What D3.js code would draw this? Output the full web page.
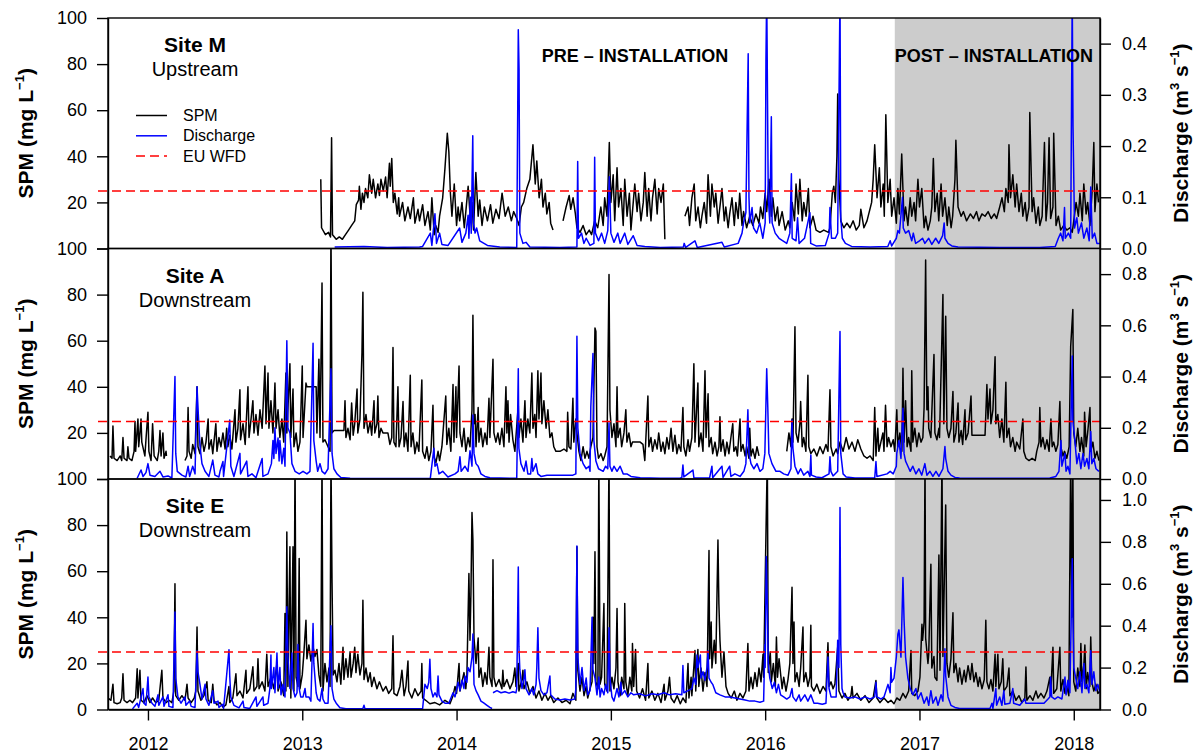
<!DOCTYPE html>
<html>
<head>
<meta charset="utf-8">
<script src="https://cdn.jsdelivr.net/npm/d3@7"></script>
<style>
body { margin: 0; background: #fff; }
text { font-family: "Liberation Sans", Arial, sans-serif; }
</style>
</head>
<body>
<svg></svg>
<script>
const svgWidth = 1198
const svgHeight = 753
const left = 108, right = 1100, top0 = 18
const panelH = 230.5

// labels and ticks
const sites = ["Site M", "Site A", "Site E"]
const siteTypes = ["Upstream", "Downstream", "Downstream"]
const phaseLabels = ["PRE \u2013 INSTALLATION", "POST \u2013 INSTALLATION"]
const legendLabels = ["SPM", "Discharge", "EU WFD"]
const yearTicks = [2012, 2013, 2014, 2015, 2016, 2017, 2018]
const spmTicks = [0, 20, 40, 60, 80, 100]
const qMax = [0.45, 0.9, 1.1]
const qTicks = [[0, 0.1, 0.2, 0.3, 0.4], [0, 0.2, 0.4, 0.6, 0.8], [0, 0.2, 0.4, 0.6, 0.8, 1.0]]
const wfdLimit = 25
const timeStart = 2011.741, timeEnd = 2018.17
const installTime = 2016.84

// series: [decimal year, value]; null = gap in record
const spmM = [[2013.12,30],[2013.125,9],[2013.15,6],[2013.17,7],[2013.183,5],[2013.19,48],[2013.196,6],[2013.22,4],[2013.24,5],[2013.26,4],[2013.28,6],[2013.30,8],[2013.32,10],[2013.34,12],[2013.35,19],[2013.365,21],[2013.37,27],[2013.38,17],[2013.39,24],[2013.40,20],[2013.41,26],[2013.425,22],[2013.435,32],[2013.45,24],[2013.46,30],[2013.475,22],[2013.49,28],[2013.50,23],[2013.51,30],[2013.525,25],[2013.54,31],[2013.55,22],[2013.565,37],[2013.57,27],[2013.58,39],[2013.59,20],[2013.60,24],[2013.615,15],[2013.625,22],
[2013.63,14],[2013.65,20],[2013.665,12],[2013.685,18],[2013.70,13],[2013.72,22],[2013.73,11],[2013.75,17],[2013.76,12],[2013.78,19],[2013.795,10],[2013.815,16],[2013.83,8],[2013.84,22],[2013.855,6],[2013.865,10],[2013.88,7],[2013.89,14],[2013.91,22],[2013.925,35],[2013.94,50],[2013.95,42],[2013.96,24],[2013.97,14],[2013.985,28],[2014.00,10],[2014.01,18],[2014.02,12],[2014.035,20],[2014.05,9],[2014.06,16],[2014.075,27],[2014.09,12],[2014.10,20],[2014.11,8],[2014.125,33],[2014.14,14],[2014.15,21],[2014.165,10],[2014.18,18],[2014.20,12],[2014.22,19],[2014.235,11],[2014.255,17],[2014.275,13],[2014.295,24],[2014.315,14],[2014.335,18],[2014.355,12],[2014.37,16],[2014.39,13],[2014.405,10],[2014.42,18],[2014.435,20],[2014.455,26],[2014.475,30],[2014.495,45],[2014.51,28],[2014.52,38],[2014.535,22],[2014.55,30],[2014.56,18],[2014.575,24],[2014.585,15],[2014.60,20],[2014.61,11],[2014.625,8],[2014.65,null],
[2014.69,12],[2014.71,18],[2014.73,23],[2014.74,17],[2014.755,22],[2014.77,15],[2014.78,9],[2014.80,7],[2014.82,10],[2014.84,6],[2014.86,8],[2014.875,6],[2014.895,12],[2014.915,9],[2014.935,18],[2014.95,10],[2014.96,22],[2014.975,14],[2014.99,46],[2015.00,20],[2015.015,32],[2015.025,12],[2015.04,35],[2015.05,18],[2015.065,26],[2015.08,10],[2015.09,30],[2015.105,14],[2015.12,24],[2015.13,8],[2015.145,20],[2015.155,28],[2015.17,16],[2015.18,24],[2015.195,12],[2015.21,20],[2015.22,33],[2015.235,14],[2015.245,26],[2015.26,12],[2015.27,22],[2015.285,30],[2015.30,15],[2015.31,26],[2015.325,20],[2015.34,28],[2015.35,4],[2015.40,null],
[2015.48,14],[2015.50,18],[2015.51,10],[2015.525,22],[2015.54,28],[2015.55,12],[2015.565,18],[2015.58,9],[2015.59,14],[2015.605,20],[2015.62,11],[2015.63,32],[2015.645,14],[2015.655,28],[2015.67,18],[2015.68,24],[2015.695,11],[2015.71,20],[2015.72,26],[2015.735,12],[2015.745,18],[2015.76,9],[2015.77,15],[2015.785,22],[2015.80,10],[2015.81,20],[2015.825,13],[2015.835,24],[2015.85,10],[2015.86,16],[2015.88,9],[2015.90,14],[2015.92,10],[2015.94,15],[2015.96,11],[2015.97,18],[2015.985,13],[2016.00,24],[2016.01,16],[2016.025,30],[2016.04,14],[2016.05,22],[2016.065,12],[2016.08,18],[2016.09,10],[2016.11,16],[2016.13,8],[2016.15,12],[2016.16,9],[2016.175,20],[2016.19,12],[2016.20,28],[2016.215,15],[2016.225,30],[2016.24,12],[2016.25,20],[2016.265,14],[2016.28,26],[2016.29,9],[2016.31,14],[2016.33,8],[2016.355,7],[2016.38,8],[2016.41,7],[2016.42,9],[2016.435,24],[2016.445,27],[2016.455,20],[2016.465,40],[2016.47,67],[2016.478,30],[2016.49,12],[2016.51,9],[2016.53,11],[2016.55,9],[2016.57,12],[2016.59,8],[2016.61,10],[2016.62,17],[2016.64,9],[2016.66,12],[2016.675,16],[2016.69,20],[2016.70,30],[2016.71,45],[2016.725,22],[2016.74,35],[2016.75,18],[2016.765,28],[2016.772,14],[2016.778,40],[2016.782,58],[2016.795,20],[2016.81,30],[2016.82,14],[2016.835,22],[2016.85,11],[2016.86,26],[2016.87,15],[2016.885,41],[2016.90,12],[2016.91,18],[2016.925,10],[2016.94,22],[2016.95,14],[2016.965,20],[2016.975,12],[2016.99,30],[2017.00,18],[2017.015,26],[2017.03,9],[2017.04,14],[2017.055,8],[2017.07,12],[2017.08,18],[2017.09,39],[2017.10,16],[2017.115,24],[2017.125,12],[2017.14,28],[2017.15,14],[2017.165,22],[2017.18,10],[2017.19,18],[2017.205,9],[2017.215,14],[2017.23,30],[2017.236,47],[2017.25,18],[2017.27,14],[2017.285,16],[2017.305,12],[2017.33,15],[2017.35,13],[2017.37,16],[2017.385,12],[2017.405,15],[2017.425,14],[2017.445,16],[2017.465,13],[2017.485,15],[2017.50,13],[2017.52,18],[2017.535,22],[2017.55,16],[2017.56,26],[2017.575,20],[2017.58,45],[2017.59,22],[2017.605,32],[2017.62,18],[2017.63,28],[2017.645,16],[2017.66,24],[2017.67,14],[2017.685,20],[2017.695,12],[2017.71,18],[2017.715,59],[2017.73,16],[2017.74,22],[2017.755,11],[2017.77,18],[2017.78,10],[2017.795,14],[2017.81,46],[2017.82,12],[2017.83,20],[2017.84,48],[2017.85,13],[2017.865,18],[2017.87,50],[2017.885,10],[2017.90,14],[2017.915,8],[2017.935,10],[2017.955,8],[2017.975,9],[2017.99,7],[2018.00,12],[2018.015,20],[2018.03,14],[2018.04,24],[2018.055,12],[2018.065,28],[2018.08,15],[2018.09,20],[2018.105,10],[2018.12,26],[2018.13,46],[2018.137,16],[2018.15,28],[2018.16,20]]

const qM = [[2013.21,0.003],[2013.40,0.004],[2013.55,0.002],[2013.76,0.003],[2013.78,0.004],[2013.83,0.03],[2013.84,0.006],[2013.86,0.068],[2013.87,0.01],[2013.89,0.03],[2013.905,0.008],[2013.945,0.006],[2014.02,0.04],[2014.035,0.012],[2014.06,0.03],[2014.075,0.065],[2014.08,0.02],[2014.09,0.1],[2014.095,0.03],[2014.105,0.22],[2014.11,0.05],[2014.12,0.03],[2014.13,0.04],[2014.15,0.015],[2014.20,0.006],[2014.28,0.003],[2014.39,0.002],[2014.40,0.427],[2014.405,0.35],[2014.41,0.03],[2014.43,0.01],[2014.45,0.012],[2014.475,0.003],[2014.67,0.002],[2014.78,0.003],[2014.785,0.17],[2014.79,0.02],[2014.81,0.03],[2014.825,0.01],[2014.84,0.02],[2014.865,0.006],[2014.89,0.01],[2014.895,0.178],[2014.90,0.03],[2014.92,0.015],[2014.94,0.03],[2014.96,0.01],[2014.98,0.035],[2014.99,0.14],[2015.00,0.03],[2015.02,0.012],[2015.045,0.03],[2015.06,0.01],[2015.09,0.03],[2015.11,0.008],[2015.145,0.025],[2015.17,0.006],[2015.22,0.004],[2015.32,0.002],[2015.47,0.003],[2015.475,0.01],[2015.485,0.002],[2015.545,0.015],[2015.56,0.002],[2015.72,0.012],[2015.735,0.003],[2015.825,0.01],[2015.85,0.03],[2015.86,0.05],[2015.875,0.07],[2015.89,0.38],[2015.895,0.1],[2015.90,0.05],[2015.915,0.08],[2015.925,0.04],[2015.945,0.03],[2015.965,0.05],[2015.985,0.02],[2016.00,0.05],[2016.005,0.367],[2016.01,0.5],[2016.02,0.1],[2016.03,0.05],[2016.04,0.257],[2016.045,0.05],[2016.065,0.03],[2016.09,0.02],[2016.115,0.015],[2016.14,0.01],[2016.16,0.03],[2016.17,0.146],[2016.175,0.02],[2016.20,0.015],[2016.21,0.06],[2016.22,0.01],[2016.255,0.02],[2016.29,0.07],[2016.295,0.01],[2016.33,0.005],[2016.39,0.006],[2016.415,0.03],[2016.42,0.08],[2016.43,0.02],[2016.455,0.02],[2016.47,0.03],[2016.485,0.5],[2016.49,0.06],[2016.50,0.02],[2016.52,0.01],[2016.56,0.004],[2016.68,0.003],[2016.795,0.004],[2016.81,0.015],[2016.82,0.005],[2016.85,0.02],[2016.86,0.035],[2016.87,0.03],[2016.89,0.1],[2016.895,0.04],[2016.91,0.03],[2016.93,0.035],[2016.95,0.015],[2016.96,0.03],[2016.975,0.01],[2017.00,0.015],[2017.02,0.02],[2017.035,0.01],[2017.06,0.02],[2017.08,0.008],[2017.105,0.02],[2017.125,0.01],[2017.15,0.025],[2017.16,0.05],[2017.165,0.02],[2017.185,0.01],[2017.21,0.005],[2017.25,0.003],[2017.52,0.002],[2017.78,0.002],[2017.88,0.004],[2017.90,0.02],[2017.915,0.03],[2017.93,0.015],[2017.94,0.08],[2017.945,0.02],[2017.965,0.03],[2017.98,0.02],[2017.99,0.5],[2017.995,0.24],[2018.005,0.04],[2018.02,0.06],[2018.03,0.03],[2018.05,0.05],[2018.065,0.02],[2018.085,0.04],[2018.10,0.015],[2018.11,0.12],[2018.12,0.02],[2018.135,0.03],[2018.15,0.01],[2018.17,0.01]]

const spmA = [[2011.754,10],[2011.767,9],[2011.773,23],[2011.78,9],[2011.80,8],[2011.82,10],[2011.83,8],[2011.838,18],[2011.845,9],[2011.864,8],[2011.87,14],[2011.877,9],[2011.896,8],[2011.91,12],[2011.916,25],[2011.92,12],[2011.935,26],[2011.94,14],[2011.955,26],[2011.96,16],[2011.98,10],[2011.987,17],[2012.00,29],[2012.006,12],[2012.02,8],[2012.03,24],[2012.04,10],[2012.06,8],[2012.07,12],[2012.078,21],[2012.085,10],[2012.097,20],[2012.104,9],[2012.117,12],[2012.12,10],[2012.18,null],
[2012.24,8],[2012.253,10],[2012.26,31],[2012.266,12],[2012.28,9],[2012.29,15],[2012.305,11],[2012.318,40],[2012.324,14],[2012.337,11],[2012.35,18],[2012.363,12],[2012.376,16],[2012.39,26],[2012.395,13],[2012.41,17],[2012.42,11],[2012.44,24],[2012.447,12],[2012.46,18],[2012.473,14],[2012.486,20],[2012.50,13],[2012.51,22],[2012.518,14],[2012.53,19],[2012.544,13],[2012.564,30],[2012.57,16],[2012.583,22],[2012.596,38.7],[2012.60,17],[2012.616,24],[2012.63,15],[2012.648,40],[2012.655,18],[2012.668,26],[2012.68,34],[2012.687,20],[2012.70,28],[2012.713,19],[2012.726,30],[2012.74,22],[2012.758,49],[2012.765,24],[2012.778,46],[2012.784,22],[2012.797,34],[2012.81,20],[2012.823,41.6],[2012.83,22],[2012.843,30],[2012.855,18],[2012.868,26],[2012.88,16],[2012.894,46],[2012.90,20],[2012.92,50],[2012.926,18],[2012.94,39],[2012.946,14],[2012.96,20],[2012.972,12],[2012.985,16],[2013.00,49],[2013.005,18],[2013.024,41.6],[2013.03,40],[2013.037,40],[2013.09,40],[2013.095,20],[2013.108,52],[2013.115,18],[2013.128,85],[2013.134,16],[2013.147,17],[2013.167,14],[2013.18,12],[2013.186,110],[2013.193,20],[2013.205,21],[2013.27,21],[2013.277,34],[2013.283,18],[2013.296,22],[2013.31,17],[2013.32,33],[2013.33,19],[2013.34,24],[2013.355,39],[2013.36,20],[2013.374,26],[2013.387,55],[2013.393,81],[2013.40,22],[2013.413,28],[2013.426,20],[2013.44,25],[2013.45,19],[2013.465,34],[2013.47,20],[2013.484,24],[2013.49,36],[2013.497,18],[2013.51,22],[2013.523,20],[2013.555,20],[2013.568,15],[2013.58,18],[2013.588,57],[2013.594,16],[2013.607,14],[2013.62,40],[2013.627,14],[2013.64,18],[2013.653,33.6],[2013.66,14],[2013.672,20],[2013.685,12],[2013.70,45],[2013.705,14],[2013.717,20],[2013.73,11],[2013.743,16],[2013.756,12],[2013.775,43],[2013.78,12],[2013.795,9],[2013.808,14],[2013.82,8],[2013.834,12],[2013.847,32],[2013.853,10],[2013.866,7],[2013.88,12],[2013.89,8],[2013.905,14],[2013.93,36],[2013.937,15],[2013.95,22],[2013.963,12],[2013.977,41],[2013.983,16],[2013.996,40],[2014.00,18],[2014.016,49],[2014.022,20],[2014.035,14],[2014.048,22],[2014.06,12],[2014.074,18],[2014.087,14],[2014.10,30],[2014.106,71],[2014.113,24],[2014.12,28],[2014.126,14],[2014.14,31],[2014.145,16],[2014.158,22],[2014.17,14],[2014.184,20],[2014.197,15],[2014.21,35],[2014.216,18],[2014.236,52],[2014.242,20],[2014.255,16],[2014.268,20],[2014.28,15],[2014.294,22],[2014.307,14],[2014.32,40],[2014.326,20],[2014.333,34],[2014.34,16],[2014.35,28],[2014.365,17],[2014.378,12],[2014.40,32],[2014.404,18],[2014.417,26],[2014.43,16],[2014.443,34],[2014.45,18],[2014.462,26],[2014.475,20],[2014.488,46],[2014.495,22],[2014.507,28],[2014.515,18],[2014.527,47],[2014.534,26],[2014.547,46],[2014.553,24],[2014.566,34],[2014.58,22],[2014.592,30],[2014.605,18],[2014.618,20],[2014.63,14],[2014.644,12],[2014.67,12],[2014.696,13],[2014.715,12],[2014.72,29],[2014.728,14],[2014.741,13],[2014.754,35],[2014.76,16],[2014.773,26],[2014.78,20],[2014.793,12],[2014.806,8],[2014.82,14],[2014.832,9],[2014.845,12],[2014.858,9],[2014.87,14],[2014.884,18],[2014.897,65.5],[2014.903,64],[2014.91,14],[2014.92,9],[2014.936,11],[2014.95,8],[2014.96,10],[2014.975,14],[2014.988,88.7],[2014.994,30],[2015.007,18],[2015.02,24],[2015.033,14],[2015.04,40],[2015.046,18],[2015.06,22],[2015.07,14],[2015.085,20],[2015.097,30],[2015.104,16],[2015.117,20],[2015.13,14],[2015.14,16],[2015.19,16],[2015.208,15],[2015.22,8],[2015.24,36],[2015.246,14],[2015.26,18],[2015.27,12],[2015.285,17],[2015.30,13],[2015.31,20],[2015.325,12],[2015.338,16],[2015.35,11],[2015.363,18],[2015.376,13],[2015.39,22],[2015.402,12],[2015.415,19],[2015.428,11],[2015.44,15],[2015.454,12],[2015.467,31],[2015.473,14],[2015.486,10],[2015.50,17],[2015.51,12],[2015.525,18],[2015.538,50],[2015.545,16],[2015.564,41.6],[2015.57,14],[2015.584,20],[2015.597,12],[2015.61,47],[2015.617,18],[2015.63,37],[2015.636,14],[2015.65,18],[2015.66,11],[2015.675,16],[2015.688,10],[2015.70,14],[2015.707,27],[2015.713,12],[2015.727,17],[2015.74,10],[2015.752,16],[2015.765,11],[2015.778,18],[2015.79,24],[2015.797,12],[2015.81,14],[2015.82,10],[2015.837,26],[2015.843,12],[2015.856,15],[2015.87,10],[2015.88,14],[2015.895,9],[2015.90,22],[2015.908,10],[2015.92,13],[2015.934,9],[2015.947,14],[2015.96,10],[2016.05,null],
[2016.14,12],[2016.154,20],[2016.167,14],[2016.174,26],[2016.18,16],[2016.193,66],[2016.20,20],[2016.213,16],[2016.225,24],[2016.23,33.6],[2016.24,14],[2016.25,18],[2016.264,12],[2016.277,45],[2016.283,14],[2016.296,11],[2016.316,13],[2016.335,10],[2016.355,14],[2016.375,11],[2016.394,15],[2016.407,12],[2016.42,38.7],[2016.426,14],[2016.44,10],[2016.46,13],[2016.47,11],[2016.485,16],[2016.505,12],[2016.525,18],[2016.543,13],[2016.563,16],[2016.582,12],[2016.60,17],[2016.62,13],[2016.64,10],[2016.66,9],[2016.68,10],[2016.70,8],[2016.71,31],[2016.718,10],[2016.73,22],[2016.737,12],[2016.75,16],[2016.763,20],[2016.77,12],[2016.78,32],[2016.79,14],[2016.80,18],[2016.815,14],[2016.83,17],[2016.84,12],[2016.853,30],[2016.86,14],[2016.873,20],[2016.886,12],[2016.893,48],[2016.90,16],[2016.91,34],[2016.92,14],[2016.93,18],[2016.945,12],[2016.95,47],[2016.957,16],[2016.97,22],[2016.983,14],[2016.996,20],[2017.01,16],[2017.022,18],[2017.03,31],[2017.04,95],[2017.048,30],[2017.055,40],[2017.06,22],[2017.074,18],[2017.094,54],[2017.10,20],[2017.113,17],[2017.126,22],[2017.13,18],[2017.152,80],[2017.158,24],[2017.17,70.6],[2017.178,22],[2017.19,18],[2017.204,22],[2017.217,38],[2017.223,16],[2017.236,20],[2017.25,33],[2017.256,16],[2017.27,21],[2017.28,15],[2017.295,30],[2017.30,17],[2017.315,20],[2017.334,36],[2017.34,19],[2017.425,19],[2017.437,41],[2017.444,26],[2017.457,39],[2017.463,24],[2017.476,30],[2017.49,53],[2017.495,24],[2017.508,28],[2017.52,18],[2017.534,26],[2017.547,16],[2017.56,42],[2017.566,18],[2017.58,22],[2017.59,14],[2017.605,18],[2017.62,12],[2017.63,16],[2017.65,13],[2017.67,26],[2017.676,12],[2017.69,9],[2017.71,8],[2017.73,9],[2017.75,8],[2017.76,12],[2017.775,16],[2017.78,31],[2017.787,14],[2017.80,18],[2017.813,13],[2017.826,17],[2017.84,12],[2017.852,26],[2017.86,14],[2017.87,16],[2017.884,12],[2017.897,15],[2017.91,33.6],[2017.916,14],[2017.93,10],[2017.94,12],[2017.955,9],[2017.97,14],[2017.98,57.5],[2017.994,73.5],[2018.00,20],[2018.013,14],[2018.026,22],[2018.04,12],[2018.05,18],[2018.065,10],[2018.07,29],[2018.08,14],[2018.09,20],[2018.105,31],[2018.11,12],[2018.124,16],[2018.137,9],[2018.15,12],[2018.163,8]]

const qA = [[2011.93,0.003],[2011.955,0.035],[2011.968,0.01],[2011.987,0.025],[2012.00,0.06],[2012.013,0.015],[2012.045,0.01],[2012.078,0.03],[2012.097,0.008],[2012.13,0.012],[2012.155,0.004],[2012.175,0.40],[2012.18,0.1],[2012.19,0.03],[2012.22,0.015],[2012.246,0.008],[2012.26,0.05],[2012.27,0.01],[2012.29,0.05],[2012.305,0.02],[2012.318,0.36],[2012.324,0.28],[2012.337,0.13],[2012.35,0.06],[2012.37,0.03],[2012.395,0.01],[2012.42,0.074],[2012.434,0.015],[2012.46,0.008],[2012.467,0.03],[2012.486,0.068],[2012.49,0.01],[2012.53,0.23],[2012.537,0.05],[2012.557,0.01],[2012.596,0.1],[2012.60,0.02],[2012.64,0.07],[2012.648,0.01],[2012.674,0.02],[2012.70,0.005],[2012.74,0.08],[2012.745,0.01],[2012.778,0.02],[2012.80,0.06],[2012.81,0.15],[2012.816,0.08],[2012.823,0.2],[2012.83,0.1],[2012.843,0.16],[2012.85,0.07],[2012.855,0.15],[2012.868,0.06],[2012.88,0.12],[2012.888,0.05],[2012.90,0.54],[2012.907,0.2],[2012.92,0.18],[2012.933,0.06],[2012.953,0.03],[2012.98,0.02],[2013.005,0.03],[2013.03,0.02],[2013.05,0.03],[2013.07,0.53],[2013.075,0.15],[2013.09,0.07],[2013.10,0.03],[2013.115,0.06],[2013.128,0.03],[2013.147,0.02],[2013.167,0.04],[2013.186,0.43],[2013.193,0.1],[2013.205,0.04],[2013.225,0.02],[2013.25,0.006],[2013.31,0.003],[2013.633,0.002],[2013.83,0.003],[2013.853,0.12],[2013.86,0.05],[2013.873,0.06],[2013.886,0.02],[2013.91,0.03],[2013.944,0.008],[2013.99,0.02],[2014.01,0.03],[2014.022,0.087],[2014.03,0.03],[2014.054,0.05],[2014.074,0.03],[2014.087,0.11],[2014.10,0.05],[2014.106,0.25],[2014.113,0.1],[2014.126,0.06],[2014.14,0.05],[2014.158,0.02],[2014.184,0.01],[2014.216,0.005],[2014.346,0.003],[2014.39,0.004],[2014.40,0.43],[2014.404,0.12],[2014.417,0.06],[2014.437,0.03],[2014.45,0.07],[2014.462,0.02],[2014.48,0.02],[2014.488,0.08],[2014.495,0.03],[2014.515,0.06],[2014.527,0.02],[2014.547,0.01],[2014.586,0.015],[2014.625,0.015],[2014.754,0.015],[2014.773,0.02],[2014.78,0.557],[2014.786,0.2],[2014.80,0.1],[2014.82,0.06],[2014.84,0.04],[2014.858,0.05],[2014.865,0.03],[2014.87,0.28],[2014.884,0.49],[2014.89,0.15],[2014.903,0.07],[2014.92,0.04],[2014.95,0.03],[2014.966,0.05],[2014.98,0.04],[2014.988,0.22],[2014.994,0.05],[2015.007,0.03],[2015.02,0.05],[2015.04,0.03],[2015.06,0.05],[2015.08,0.02],[2015.104,0.02],[2015.13,0.01],[2015.19,0.005],[2015.32,0.003],[2015.448,0.003],[2015.46,0.006],[2015.467,0.055],[2015.473,0.008],[2015.532,0.035],[2015.538,0.005],[2015.64,0.004],[2015.655,0.05],[2015.66,0.005],[2015.72,0.05],[2015.727,0.006],[2015.77,0.05],[2015.778,0.01],[2015.804,0.02],[2015.837,0.01],[2015.862,0.03],[2015.875,0.06],[2015.888,0.27],[2015.895,0.1],[2015.908,0.06],[2015.927,0.04],[2015.947,0.06],[2015.966,0.03],[2015.985,0.04],[2015.998,0.1],[2016.01,0.43],[2016.017,0.28],[2016.024,0.1],[2016.044,0.06],[2016.07,0.03],[2016.096,0.03],[2016.12,0.02],[2016.148,0.015],[2016.167,0.04],[2016.174,0.23],[2016.18,0.12],[2016.193,0.05],[2016.213,0.02],[2016.23,0.04],[2016.25,0.015],[2016.277,0.03],[2016.29,0.01],[2016.296,0.094],[2016.30,0.015],[2016.33,0.008],[2016.368,0.005],[2016.414,0.02],[2016.42,0.087],[2016.426,0.03],[2016.44,0.012],[2016.47,0.03],[2016.485,0.576],[2016.49,0.1],[2016.505,0.02],[2016.525,0.008],[2016.582,0.004],[2016.71,0.004],[2016.718,0.068],[2016.724,0.01],[2016.79,0.02],[2016.81,0.03],[2016.83,0.02],[2016.85,0.05],[2016.853,0.1],[2016.867,0.15],[2016.88,0.08],[2016.893,0.276],[2016.90,0.1],[2016.91,0.07],[2016.925,0.05],[2016.94,0.03],[2016.957,0.05],[2016.977,0.02],[2016.996,0.04],[2017.015,0.015],[2017.035,0.06],[2017.048,0.015],[2017.068,0.03],[2017.087,0.01],[2017.107,0.03],[2017.126,0.01],[2017.152,0.04],[2017.165,0.127],[2017.17,0.08],[2017.185,0.03],[2017.204,0.015],[2017.23,0.006],[2017.26,0.004],[2017.457,0.003],[2017.65,0.003],[2017.845,0.004],[2017.884,0.01],[2017.904,0.03],[2017.917,0.15],[2017.923,0.05],[2017.943,0.1],[2017.95,0.03],[2017.962,0.05],[2017.975,0.02],[2017.99,0.48],[2017.994,0.23],[2018.007,0.15],[2018.02,0.06],[2018.033,0.1],[2018.046,0.04],[2018.06,0.1],[2018.07,0.05],[2018.085,0.08],[2018.098,0.04],[2018.11,0.185],[2018.117,0.06],[2018.13,0.08],[2018.144,0.04],[2018.163,0.03]]

const spmE = [[2011.74,5],[2011.76,4],[2011.773,11],[2011.78,3],[2011.80,2.5],[2011.82,3],[2011.83,5],[2011.838,15.5],[2011.845,4],[2011.864,3],[2011.883,4],[2011.90,3],[2011.92,5],[2011.93,17.7],[2011.935,5],[2011.948,17],[2011.955,4],[2011.974,3],[2011.994,6],[2012.013,3],[2012.03,5],[2012.05,3],[2012.07,4],[2012.09,17],[2012.097,5],[2012.117,3],[2012.136,4],[2012.155,3],[2012.168,8],[2012.175,54.6],[2012.18,6],[2012.20,4],[2012.22,6],[2012.24,4],[2012.253,11],[2012.26,5],[2012.28,3],[2012.30,5],[2012.31,8],[2012.318,35.8],[2012.324,8],[2012.343,4],[2012.363,6],[2012.382,12],[2012.39,4],[2012.41,3],[2012.42,11],[2012.428,4],[2012.447,2],[2012.467,3],[2012.486,1],[2012.505,2],[2012.525,10],[2012.53,3],[2012.55,5],[2012.57,15.5],[2012.577,6],[2012.596,8],[2012.616,5],[2012.635,17],[2012.64,7],[2012.66,9],[2012.68,18.5],[2012.687,8],[2012.706,10],[2012.713,22],[2012.72,9],[2012.74,12],[2012.758,8],[2012.77,24],[2012.778,10],[2012.797,14],[2012.816,9],[2012.836,20],[2012.843,8],[2012.862,12],[2012.88,6],[2012.888,41.6],[2012.894,8],[2012.90,77],[2012.907,10],[2012.92,70.6],[2012.926,5],[2012.94,70.6],[2012.946,8],[2012.953,110],[2012.96,14],[2012.972,10],[2012.98,65.5],[2012.985,9],[2013.00,15],[2013.01,24],[2013.024,38.7],[2013.03,22],[2013.043,28],[2013.056,21],[2013.07,27],[2013.082,23],[2013.095,26],[2013.108,15],[2013.12,10],[2013.128,110],[2013.134,8],[2013.147,20],[2013.16,12],[2013.173,18],[2013.18,10],[2013.186,110],[2013.193,55],[2013.20,15],[2013.212,17],[2013.225,12],[2013.238,20],[2013.25,11],[2013.264,27],[2013.27,13],[2013.283,22],[2013.296,14],[2013.31,25],[2013.316,14],[2013.33,20],[2013.34,27],[2013.348,16],[2013.36,24],[2013.374,15],[2013.387,20],[2013.393,47.4],[2013.40,13],[2013.413,18],[2013.426,12],[2013.44,16],[2013.45,10],[2013.465,14],[2013.484,9],[2013.50,12],[2013.523,8],[2013.542,10],[2013.56,7],[2013.58,9],[2013.588,32],[2013.594,7],[2013.614,6],[2013.633,10],[2013.646,17],[2013.66,6],[2013.672,10],[2013.685,21],[2013.69,8],[2013.71,5],[2013.73,9],[2013.75,6],[2013.77,8],[2013.775,20],[2013.78,5],[2013.80,4],[2013.827,2.5],[2013.86,3],[2013.89,2],[2013.925,4],[2013.957,2.5],[2013.977,6],[2013.99,10],[2014.00,7],[2014.016,20],[2014.022,8],[2014.035,12],[2014.048,16],[2014.06,9],[2014.067,15],[2014.08,59],[2014.087,30],[2014.093,50],[2014.10,85.5],[2014.106,73.5],[2014.113,31],[2014.126,20],[2014.14,31],[2014.145,14],[2014.158,18],[2014.17,10],[2014.184,16],[2014.197,11],[2014.21,27],[2014.216,14],[2014.23,10],[2014.236,65],[2014.242,14],[2014.255,10],[2014.275,13],[2014.294,9],[2014.30,17],[2014.307,10],[2014.326,13],[2014.346,9],[2014.365,12],[2014.378,18],[2014.385,10],[2014.40,20],[2014.404,8],[2014.424,13],[2014.43,17],[2014.437,9],[2014.456,12],[2014.475,7],[2014.495,10],[2014.515,5],[2014.534,8],[2014.553,4],[2014.573,7],[2014.592,4],[2014.61,6],[2014.63,3],[2014.657,5],[2014.683,3],[2014.71,4],[2014.735,2.5],[2014.754,7],[2014.773,4],[2014.78,70.6],[2014.786,17],[2014.80,8],[2014.813,14],[2014.826,6],[2014.84,10],[2014.85,5],[2014.865,9],[2014.878,12],[2014.884,40],[2014.89,20],[2014.897,68.4],[2014.903,12],[2014.916,9],[2014.922,110],[2014.93,11],[2014.94,14],[2014.955,46],[2014.96,11],[2014.975,8],[2014.988,110],[2014.994,8],[2015.007,14],[2015.02,9],[2015.033,18],[2015.04,43.8],[2015.046,12],[2015.06,6],[2015.07,14],[2015.085,9],[2015.09,46],[2015.097,12],[2015.11,6],[2015.123,14],[2015.136,8],[2015.14,28.6],[2015.148,10],[2015.16,26],[2015.167,8],[2015.186,5],[2015.205,9],[2015.225,4],[2015.24,20],[2015.246,5],[2015.266,8],[2015.285,4],[2015.305,7],[2015.325,3],[2015.345,11],[2015.35,4],[2015.37,8],[2015.38,14],[2015.39,5],[2015.41,3],[2015.43,6],[2015.45,2.5],[2015.467,5],[2015.486,3],[2015.50,20],[2015.506,5],[2015.52,14],[2015.525,6],[2015.545,25.6],[2015.55,8],[2015.564,26],[2015.57,10],[2015.584,18],[2015.597,8],[2015.61,16],[2015.623,10],[2015.636,69],[2015.64,22],[2015.65,38],[2015.655,18],[2015.67,30],[2015.68,20],[2015.694,73.5],[2015.70,46],[2015.707,30],[2015.72,14],[2015.733,25],[2015.746,10],[2015.76,7],[2015.78,5],[2015.80,8],[2015.817,4],[2015.837,7],[2015.856,5],[2015.875,8],[2015.888,28.6],[2015.895,8],[2015.908,14],[2015.92,9],[2015.934,16],[2015.947,10],[2015.96,18],[2015.973,12],[2015.986,24],[2015.99,14],[2016.00,55],[2016.007,83.6],[2016.014,110],[2016.02,16],[2016.033,25],[2016.04,12],[2016.053,20],[2016.066,10],[2016.073,31.4],[2016.08,14],[2016.09,22],[2016.11,9],[2016.12,14],[2016.135,8],[2016.148,13],[2016.16,20],[2016.174,53],[2016.18,20],[2016.187,38],[2016.193,12],[2016.206,16],[2016.22,10],[2016.23,18],[2016.245,35.8],[2016.25,12],[2016.264,16],[2016.277,10],[2016.29,14],[2016.296,36.5],[2016.30,10],[2016.316,8],[2016.335,11],[2016.355,7],[2016.375,10],[2016.394,8],[2016.407,29],[2016.414,10],[2016.427,12],[2016.44,9],[2016.452,11],[2016.47,27],[2016.478,8],[2016.498,5],[2016.517,7],[2016.536,4],[2016.556,6],[2016.563,10],[2016.57,5],[2016.595,7],[2016.62,4],[2016.647,6],[2016.673,3],[2016.70,5],[2016.718,12.6],[2016.724,5],[2016.744,3],[2016.77,5],[2016.796,3],[2016.815,4],[2016.835,2.5],[2016.853,5],[2016.873,4],[2016.893,7],[2016.91,5],[2016.93,8],[2016.945,25.6],[2016.95,7],[2016.97,6],[2016.99,8],[2017.003,14],[2017.016,37],[2017.02,30],[2017.03,38],[2017.036,110],[2017.04,31],[2017.055,20],[2017.06,24],[2017.074,63],[2017.08,18],[2017.094,23],[2017.10,14],[2017.113,12.6],[2017.126,67],[2017.133,17],[2017.146,110],[2017.152,23],[2017.17,88.7],[2017.178,20],[2017.19,14],[2017.204,22],[2017.217,42],[2017.223,16],[2017.236,20],[2017.25,12],[2017.26,18],[2017.275,11],[2017.29,17],[2017.30,12],[2017.315,19],[2017.33,13],[2017.34,20],[2017.353,12],[2017.366,16],[2017.38,10],[2017.39,14],[2017.405,9],[2017.42,13],[2017.43,38.7],[2017.437,12],[2017.45,9],[2017.463,13],[2017.476,8],[2017.49,24],[2017.495,10],[2017.508,24],[2017.515,9],[2017.53,12],[2017.54,22],[2017.547,8],[2017.567,10],[2017.58,18],[2017.586,6],[2017.605,8],[2017.625,4],[2017.645,6],[2017.664,3],[2017.683,5],[2017.69,18.4],[2017.696,4],[2017.716,6],[2017.735,4],[2017.755,8],[2017.768,5],[2017.787,7],[2017.807,5],[2017.826,8],[2017.845,14],[2017.85,6],[2017.865,27],[2017.87,7],[2017.89,9],[2017.91,27],[2017.916,8],[2017.93,13],[2017.943,7],[2017.955,10],[2017.968,6],[2017.98,110],[2017.987,40],[2017.994,110],[2018.00,12],[2018.013,8],[2018.026,18],[2018.04,10],[2018.046,28.6],[2018.053,12],[2018.066,20],[2018.072,28],[2018.08,9],[2018.09,16],[2018.104,10],[2018.11,31.4],[2018.117,12],[2018.13,8],[2018.143,11],[2018.156,7],[2018.17,8]]

const qE = [[2011.90,0.003],[2011.93,0.03],[2011.94,0.01],[2011.968,0.1],[2011.974,0.03],[2011.987,0.02],[2012.00,0.155],[2012.006,0.06],[2012.026,0.03],[2012.045,0.015],[2012.065,0.07],[2012.07,0.02],[2012.097,0.06],[2012.104,0.015],[2012.13,0.07],[2012.136,0.015],[2012.162,0.01],[2012.175,0.465],[2012.18,0.15],[2012.194,0.06],[2012.214,0.03],[2012.24,0.06],[2012.246,0.02],[2012.27,0.04],[2012.28,0.015],[2012.305,0.01],[2012.318,0.28],[2012.324,0.18],[2012.337,0.12],[2012.35,0.05],[2012.37,0.12],[2012.376,0.05],[2012.395,0.02],[2012.42,0.09],[2012.428,0.03],[2012.454,0.04],[2012.46,0.01],[2012.486,0.025],[2012.49,0.005],[2012.525,0.285],[2012.53,0.16],[2012.537,0.06],[2012.557,0.02],[2012.59,0.008],[2012.616,0.04],[2012.622,0.01],[2012.66,0.005],[2012.70,0.06],[2012.706,0.015],[2012.745,0.06],[2012.75,0.02],[2012.778,0.03],[2012.79,0.1],[2012.797,0.26],[2012.80,0.1],[2012.816,0.2],[2012.823,0.08],[2012.836,0.27],[2012.843,0.1],[2012.855,0.2],[2012.862,0.07],[2012.875,0.12],[2012.888,0.06],[2012.90,0.49],[2012.907,0.25],[2012.92,0.1],[2012.933,0.27],[2012.94,0.1],[2012.953,0.06],[2012.966,0.08],[2012.972,0.31],[2012.98,0.1],[2012.99,0.06],[2013.005,0.06],[2013.018,0.1],[2013.024,0.06],[2013.043,0.06],[2013.056,0.04],[2013.07,0.41],[2013.075,0.22],[2013.09,0.08],[2013.10,0.05],[2013.115,0.04],[2013.128,0.1],[2013.134,0.05],[2013.147,0.03],[2013.167,0.03],[2013.186,0.40],[2013.193,0.1],[2013.205,0.05],[2013.22,0.03],[2013.244,0.008],[2013.283,0.004],[2013.393,0.005],[2013.40,0.02],[2013.406,0.004],[2013.633,0.003],[2013.78,0.004],[2013.795,0.12],[2013.81,0.1],[2013.82,0.13],[2013.827,0.24],[2013.834,0.1],[2013.847,0.06],[2013.86,0.08],[2013.873,0.06],[2013.88,0.16],[2013.886,0.07],[2013.905,0.04],[2013.925,0.03],[2013.95,0.03],[2013.977,0.08],[2013.99,0.06],[2014.01,0.13],[2014.022,0.09],[2014.035,0.14],[2014.048,0.1],[2014.054,0.16],[2014.067,0.13],[2014.074,0.2],[2014.087,0.18],[2014.10,0.25],[2014.106,0.36],[2014.113,0.12],[2014.126,0.09],[2014.14,0.07],[2014.158,0.04],[2014.178,0.03],[2014.197,0.02],[2014.216,0.01],[2014.23,0.005],[2014.233,null],
[2014.236,0.08],[2014.262,0.09],[2014.288,0.08],[2014.314,0.085],[2014.34,0.078],[2014.365,0.085],[2014.385,0.08],[2014.39,0.1],[2014.40,0.68],[2014.404,0.3],[2014.41,0.19],[2014.424,0.1],[2014.437,0.15],[2014.443,0.19],[2014.45,0.1],[2014.47,0.07],[2014.488,0.1],[2014.50,0.07],[2014.515,0.12],[2014.52,0.2],[2014.527,0.39],[2014.534,0.15],[2014.547,0.09],[2014.566,0.07],[2014.586,0.08],[2014.605,0.16],[2014.61,0.07],[2014.637,0.05],[2014.67,0.045],[2014.702,0.05],[2014.735,0.045],[2014.767,0.05],[2014.773,0.1],[2014.78,0.78],[2014.786,0.25],[2014.80,0.12],[2014.813,0.2],[2014.826,0.09],[2014.84,0.15],[2014.85,0.07],[2014.865,0.09],[2014.878,0.44],[2014.884,0.19],[2014.897,0.15],[2014.91,0.07],[2014.922,0.155],[2014.93,0.06],[2014.94,0.1],[2014.955,0.07],[2014.966,0.12],[2014.98,0.08],[2014.988,0.39],[2014.994,0.15],[2015.007,0.06],[2015.02,0.04],[2015.04,0.1],[2015.052,0.06],[2015.065,0.13],[2015.07,0.07],[2015.09,0.09],[2015.11,0.06],[2015.13,0.08],[2015.148,0.07],[2015.186,0.075],[2015.225,0.065],[2015.266,0.075],[2015.305,0.07],[2015.345,0.08],[2015.38,0.07],[2015.42,0.075],[2015.46,0.07],[2015.467,0.21],[2015.473,0.08],[2015.50,0.09],[2015.525,0.1],[2015.538,0.15],[2015.55,0.12],[2015.558,0.26],[2015.564,0.2],[2015.58,0.26],[2015.584,0.15],[2015.597,0.18],[2015.61,0.14],[2015.623,0.2],[2015.63,0.28],[2015.636,0.15],[2015.65,0.13],[2015.66,0.12],[2015.68,0.08],[2015.707,0.07],[2015.74,0.06],[2015.77,0.06],[2015.804,0.055],[2015.837,0.05],[2015.87,0.045],[2015.90,0.04],[2015.934,0.04],[2015.966,0.035],[2015.99,0.04],[2015.998,0.31],[2016.00,0.2],[2016.007,0.73],[2016.014,0.5],[2016.02,0.22],[2016.03,0.15],[2016.046,0.1],[2016.06,0.13],[2016.073,0.08],[2016.086,0.12],[2016.10,0.07],[2016.12,0.06],[2016.14,0.05],[2016.16,0.06],[2016.174,0.1],[2016.18,0.06],[2016.20,0.04],[2016.22,0.07],[2016.23,0.04],[2016.257,0.07],[2016.277,0.04],[2016.296,0.07],[2016.316,0.03],[2016.34,0.03],[2016.37,0.025],[2016.394,0.03],[2016.407,0.25],[2016.414,0.1],[2016.427,0.06],[2016.446,0.06],[2016.46,0.06],[2016.47,0.33],[2016.478,0.2],[2016.485,0.964],[2016.49,0.31],[2016.498,0.1],[2016.505,0.08],[2016.517,0.06],[2016.55,0.055],[2016.582,0.06],[2016.614,0.05],[2016.647,0.06],[2016.68,0.05],[2016.71,0.06],[2016.718,0.13],[2016.724,0.06],[2016.75,0.05],[2016.77,0.06],[2016.796,0.12],[2016.81,0.08],[2016.815,0.2],[2016.82,0.13],[2016.835,0.15],[2016.85,0.25],[2016.86,0.36],[2016.867,0.38],[2016.88,0.25],[2016.893,0.63],[2016.90,0.43],[2016.91,0.25],[2016.925,0.15],[2016.94,0.1],[2016.957,0.07],[2016.977,0.1],[2016.99,0.05],[2017.01,0.08],[2017.03,0.03],[2017.048,0.06],[2017.06,0.02],[2017.074,0.09],[2017.087,0.03],[2017.107,0.06],[2017.12,0.02],[2017.14,0.07],[2017.152,0.04],[2017.165,0.29],[2017.17,0.16],[2017.185,0.06],[2017.204,0.02],[2017.23,0.01],[2017.26,0.005],[2017.457,0.005],[2017.47,0.03],[2017.476,0.005],[2017.495,0.1],[2017.50,0.02],[2017.52,0.06],[2017.534,0.02],[2017.547,0.09],[2017.553,0.025],[2017.586,0.03],[2017.605,0.1],[2017.61,0.03],[2017.65,0.02],[2017.683,0.05],[2017.69,0.03],[2017.73,0.03],[2017.768,0.03],[2017.807,0.03],[2017.833,0.05],[2017.845,0.06],[2017.85,0.155],[2017.857,0.06],[2017.877,0.05],[2017.897,0.06],[2017.923,0.05],[2017.943,0.155],[2017.95,0.07],[2017.962,0.14],[2017.975,0.08],[2017.99,0.72],[2017.994,0.47],[2018.00,0.2],[2018.013,0.15],[2018.026,0.1],[2018.04,0.18],[2018.053,0.08],[2018.066,0.22],[2018.072,0.1],[2018.085,0.12],[2018.098,0.08],[2018.11,0.28],[2018.117,0.12],[2018.13,0.18],[2018.143,0.09],[2018.156,0.12],[2018.17,0.08]]

const spmSeries = [spmM, spmA, spmE]
const qSeries = [qM, qA, qE]

const svg = d3.select("svg")
    .attr("width", svgWidth)
    .attr("height", svgHeight)

const x = d3.scaleLinear().domain([timeStart, timeEnd]).range([left, right])
const defs = svg.append("defs")

sites.forEach((site, i) => {
    const top = top0 + i * panelH
    const g = svg.append("g").attr("transform", `translate(0,${top})`)
    const ySpm = d3.scaleLinear().domain([0, 100]).range([panelH, 0])
    const yQ = d3.scaleLinear().domain([0, qMax[i]]).range([panelH, 0])
    const isLast = i === sites.length - 1

    defs.append("clipPath").attr("id", `clip${i}`)
        .append("rect").attr("x", left).attr("y", 0)
        .attr("width", right - left).attr("height", panelH)

    // post-installation shading
    g.append("rect")
        .attr("x", x(installTime)).attr("y", 0)
        .attr("width", x(timeEnd) - x(installTime)).attr("height", panelH)
        .attr("fill", "#cccccc")

    const plot = g.append("g").attr("clip-path", `url(#clip${i})`)

    const spmLine = d3.line()
        .defined(d => d[1] !== null)
        .x(d => x(d[0])).y(d => ySpm(d[1]))
    const qLine = d3.line()
        .defined(d => d[1] !== null)
        .x(d => x(d[0])).y(d => yQ(d[1]))

    plot.append("path").datum(spmSeries[i])
        .attr("d", spmLine)
        .attr("fill", "none").attr("stroke", "#000")
        .attr("stroke-width", 1.5).attr("stroke-linejoin", "round")

    g.append("line")
        .attr("x1", left - 10).attr("x2", right)
        .attr("y1", ySpm(wfdLimit)).attr("y2", ySpm(wfdLimit))
        .attr("stroke", "#ff0000").attr("stroke-width", 1.5)
        .attr("stroke-dasharray", "9,5")

    plot.append("path").datum(qSeries[i])
        .attr("d", qLine)
        .attr("fill", "none").attr("stroke", "#0000ff")
        .attr("stroke-width", 1.5).attr("stroke-linejoin", "round")

    // frame
    g.append("rect")
        .attr("x", left).attr("y", 0)
        .attr("width", right - left).attr("height", panelH)
        .attr("fill", "none").attr("stroke", "#000").attr("stroke-width", 1.4)

    // the "0" of upper panels sits under the "100" of the panel below
    const leftAxis = g.append("g")
        .attr("transform", `translate(${left},0)`)
        .call(d3.axisLeft(ySpm).tickValues(spmTicks).tickSize(11).tickPadding(10).tickSizeOuter(0)
            .tickFormat(d => (d === 0 && !isLast) ? "" : d))
    const rightAxis = g.append("g")
        .attr("transform", `translate(${right},0)`)
        .call(d3.axisRight(yQ).tickValues(qTicks[i]).tickFormat(d3.format(".1f"))
            .tickSize(11).tickPadding(11).tickSizeOuter(0))
    ;[leftAxis, rightAxis].forEach(a => {
        a.selectAll("text").attr("font-size", 18).attr("fill", "#000")
            .attr("font-family", "Liberation Sans, Arial, sans-serif")
        a.selectAll("line, path").attr("stroke", "#000").attr("stroke-width", 1.4)
    })

    if (isLast) {
        const bottomAxis = g.append("g")
            .attr("transform", `translate(0,${panelH})`)
            .call(d3.axisBottom(x).tickValues(yearTicks).tickFormat(d3.format("d"))
                .tickSize(11).tickPadding(17).tickSizeOuter(0))
        bottomAxis.selectAll("text").attr("font-size", 18).attr("fill", "#000")
            .attr("font-family", "Liberation Sans, Arial, sans-serif")
        bottomAxis.selectAll("line, path").attr("stroke", "#000").attr("stroke-width", 1.4)
    }

    // site labels
    g.append("text").text(site)
        .attr("x", 195).attr("y", 34)
        .attr("text-anchor", "middle").attr("font-size", 21).attr("font-weight", "bold")
    g.append("text").text(siteTypes[i])
        .attr("x", 195).attr("y", 58)
        .attr("text-anchor", "middle").attr("font-size", 20)

    // axis titles
    const lt = g.append("text")
        .attr("transform", `translate(33,${panelH / 2}) rotate(-90)`)
        .attr("text-anchor", "middle").attr("font-size", 21).attr("font-weight", "bold")
    lt.append("tspan").text("SPM (mg L")
    lt.append("tspan").text("\u22121").attr("font-size", 13).attr("dy", -9)
    lt.append("tspan").text(")").attr("dy", 9)

    const rt = g.append("text")
        .attr("transform", `translate(1188,${panelH / 2}) rotate(-90)`)
        .attr("text-anchor", "middle").attr("font-size", 21).attr("font-weight", "bold")
    rt.append("tspan").text("Discharge (m")
    rt.append("tspan").text("3").attr("font-size", 13).attr("dy", -9)
    rt.append("tspan").text(" s").attr("dy", 9)
    rt.append("tspan").text("\u22121").attr("font-size", 13).attr("dy", -9)
    rt.append("tspan").text(")").attr("dy", 9)

    if (i === 0) {
        g.append("text").text(phaseLabels[0])
            .attr("x", 635).attr("y", 44)
            .attr("text-anchor", "middle").attr("font-size", 18).attr("font-weight", "bold")
        g.append("text").text(phaseLabels[1])
            .attr("x", x(installTime)).attr("y", 44)
            .attr("font-size", 18).attr("font-weight", "bold")

        const legendColors = ["#000", "#0000ff", "#ff0000"]
        const legendDash = [null, null, "9,5"]
        legendLabels.forEach((lab, k) => {
            const ly = 97.5 + k * 20.3
            g.append("line")
                .attr("x1", 136).attr("x2", 167).attr("y1", ly).attr("y2", ly)
                .attr("stroke", legendColors[k]).attr("stroke-width", 1.5)
                .attr("stroke-dasharray", legendDash[k])
            g.append("text").text(lab)
                .attr("x", 183).attr("y", ly).attr("dy", "0.35em")
                .attr("font-size", 16)
        })
    }
})
</script>
</body>
</html>
